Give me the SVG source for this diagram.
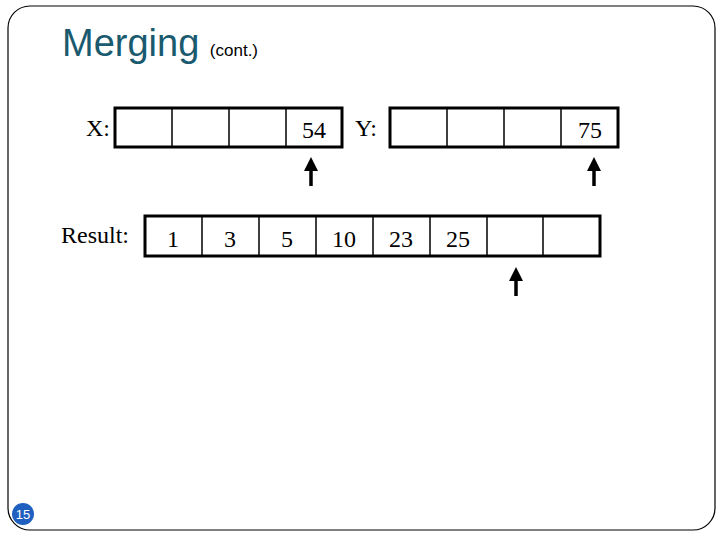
<svg xmlns="http://www.w3.org/2000/svg" width="720" height="540" viewBox="0 0 720 540">
<defs>
<style>
.box{fill:#fff;stroke:#000;stroke-width:3}
.div{stroke:#000;stroke-width:1.5}
.t{font-family:"Liberation Serif",serif;font-size:24px;fill:#000}
.ar{stroke:#000;stroke-width:3.5}
</style>
<marker id="ah" viewBox="0 0 10 10" refX="5" refY="5" markerWidth="4" markerHeight="4" orient="auto"><path d="M0,0L10,5L0,10z" fill="#000"/></marker>
</defs>
<rect width="720" height="540" fill="#fff"/>
<rect x="8" y="6" width="707" height="524" rx="22" fill="none" stroke="#000" stroke-width="1.2"/>
<text x="62" y="56" font-family="Liberation Sans,Arial,sans-serif" font-size="38" fill="#1a5a6e">Merging <tspan font-size="17" fill="#000">(cont.)</tspan></text>
<g id="X">
<text class="t" x="86" y="136">X:</text>
<rect class="box" x="115" y="108" width="227" height="39"/>
<path class="div" d="M172,108V147M229,108V147M286,108V147"/>
<text class="t" x="314" y="138" text-anchor="middle">54</text>
</g>
<g id="Y">
<text class="t" x="355" y="136">Y:</text>
<rect class="box" x="390" y="108" width="228" height="39"/>
<path class="div" d="M447,108V147M504,108V147M561,108V147"/>
<text class="t" x="590" y="138" text-anchor="middle">75</text>
</g>
<g id="Result">
<text class="t" x="61" y="243">Result:</text>
<rect class="box" x="145" y="216" width="455" height="40"/>
<path class="div" d="M202,216V256M259,216V256M316,216V256M373,216V256M430,216V256M487,216V256M543,216V256"/>
<g class="t" text-anchor="middle">
<text x="173" y="247">1</text><text x="230" y="247">3</text><text x="287" y="247">5</text>
<text x="344" y="247">10</text><text x="401" y="247">23</text><text x="458" y="247">25</text>
</g>
</g>
<g id="connectors">
<line class="ar" x1="311" y1="186" x2="311" y2="164" marker-end="url(#ah)"/>
<line class="ar" x1="594" y1="186" x2="594" y2="164" marker-end="url(#ah)"/>
<line class="ar" x1="516" y1="296" x2="516" y2="274" marker-end="url(#ah)"/>
</g>
<circle cx="23" cy="514" r="11" fill="#1f5fbf"/>
<text x="23" y="519" text-anchor="middle" font-family="Liberation Sans,sans-serif" font-size="13" fill="#fff">15</text>
</svg>
